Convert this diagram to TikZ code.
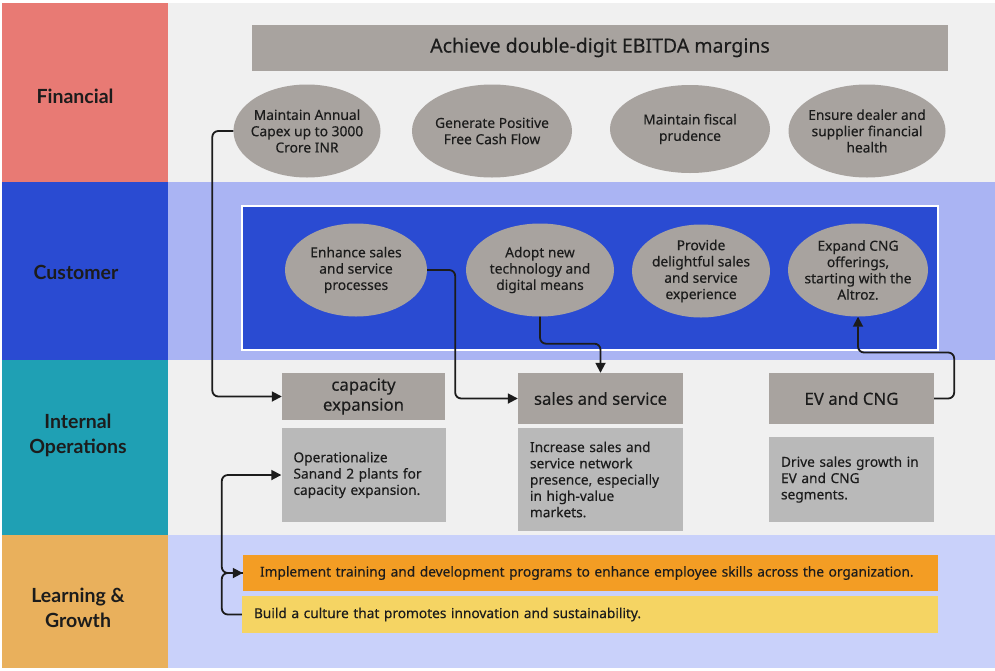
\documentclass[tikz,border=0pt]{standalone}
\usepackage{fontspec}
\setmainfont{Noto Sans}[FakeBold=0.25]
\newfontfamily\lanefont{Lato}
\usetikzlibrary{shapes.geometric,arrows.meta}
\definecolor{finred}{HTML}{E87A74}
\definecolor{custblue}{HTML}{2A4BD2}
\definecolor{opsteal}{HTML}{1FA0B4}
\definecolor{learnorange}{HTML}{E9B05C}
\definecolor{bandgray}{HTML}{F0F0F0}
\definecolor{bandblue}{HTML}{AAB4F3}
\definecolor{bandlilac}{HTML}{C9D1FA}
\definecolor{goalgray}{HTML}{A8A39F}
\definecolor{descgray}{HTML}{B9B9B9}
\definecolor{barorange}{HTML}{F39D24}
\definecolor{baryellow}{HTML}{F5D463}
\definecolor{inkdark}{HTML}{1C1C1C}
\tikzset{
  lanelabel/.style={font=\lanefont\bfseries\fontsize{19.5}{25}\selectfont, align=center, text=inkdark},
  goal/.style={ellipse, fill=goalgray, inner sep=-14pt, minimum height=93pt, align=center, text=inkdark, font=\fontsize{13.8}{16.3}\selectfont},
  header/.style={rectangle, fill=goalgray, inner sep=0pt, align=center, text=inkdark, font=\fontsize{16.8}{20}\selectfont},
  desc/.style={rectangle, fill=descgray, inner xsep=12pt, inner ysep=0pt, align=left, text=inkdark, font=\fontsize{13.7}{16.3}\selectfont},
  bar/.style={rectangle, inner ysep=0pt, align=left, text=inkdark, font=\fontsize{13.7}{16}\selectfont},
  link/.style={draw=inkdark, line width=1.8pt, rounded corners=6pt, -{Triangle[length=10pt,width=10pt]}}
}
\begin{document}
\begin{tikzpicture}[x=1pt,y=-1pt]
\useasboundingbox[fill=white] (0,0) rectangle (995,670);
% bands
\fill[bandgray] (168,3) rectangle (995,182);
\fill[bandblue] (168,182) rectangle (995,360);
\fill[bandgray] (168,360) rectangle (995,535);
\fill[bandlilac] (168,535) rectangle (995,668);
\fill[finred] (2,3) rectangle (168,182);
\fill[custblue] (2,182) rectangle (168,360);
\fill[opsteal] (2,360) rectangle (168,535);
\fill[learnorange] (2,535) rectangle (168,668);
\node[lanelabel] (fin) at (75,96) {Financial};
\node[lanelabel] (cust) at (76,272) {Customer};
\node[lanelabel] (ops) at (78,435) {Internal\\Operations};
\node[lanelabel] (learn) at (78,608) {Learning \&\\Growth};
% financial
\node[rectangle, fill=goalgray, minimum width=696pt, minimum height=46pt, text=inkdark, font=\fontsize{19.5}{22}\selectfont] (ebitda) at (600,47.5) {Achieve double-digit EBITDA margins};
\node[goal, minimum width=147pt] (capex) at (307,131) {Maintain Annual\\Capex up to 3000\\Crore INR};
\node[goal, minimum width=160pt] (cash) at (492,131) {Generate Positive\\Free Cash Flow};
\node[goal, minimum width=160pt, minimum height=88pt] (fiscal) at (690,129) {Maintain fiscal\\prudence};
\node[goal, minimum width=157pt] (dealer) at (867,131) {Ensure dealer and\\supplier financial\\health};
% customer
\draw[white, line width=1.2pt, fill=custblue] (242,206) rectangle (938,350);
\node[goal, minimum width=142pt] (enhance) at (356,270) {Enhance sales\\and service\\processes};
\node[goal, minimum width=148pt] (adopt) at (540,270) {Adopt new\\technology and\\digital means};
\node[goal, minimum width=138pt] (provide) at (701,271) {Provide\\delightful sales\\and service\\experience};
\node[goal, minimum width=140pt] (expand) at (858,270) {Expand CNG\\offerings,\\starting with the\\Altroz.};
% internal operations
\node[header, minimum width=163pt, minimum height=47pt] (capacity) at (363.5,396.5) {capacity\\expansion};
\node[header, minimum width=165pt, minimum height=51pt] (sales) at (600.5,398.5) {sales and service};
\node[header, minimum width=165pt, minimum height=51pt] (ev) at (851.5,398.5) {EV and CNG};
\node[desc, text width=140pt, minimum height=94pt] (operate) at (363.5,475) {Operationalize\\Sanand 2 plants for\\capacity expansion.};
\node[desc, text width=141pt, minimum height=103pt] (network) at (600.5,479.5) {Increase sales and\\service network\\presence, especially\\in high-value\\markets.};
\node[desc, text width=141pt, minimum height=85pt] (drive) at (851.5,479.5) {Drive sales growth in\\EV and CNG\\segments.};
% learning and growth
\node[bar, fill=barorange, inner xsep=17pt, text width=661pt, minimum height=36pt] (training) at (590.5,573) {Implement training and development programs to enhance employee skills across the organization.};
\node[bar, fill=baryellow, inner xsep=12pt, text width=672pt, minimum height=37pt] (culture) at (590,614.5) {Build a culture that promotes innovation and sustainability.};
% links
\draw[link] (capex.west) -- ++(-21,0) |- (capacity.west);
\draw[link] (enhance.east) -- ++(28,0) |- (sales.west);
\draw[link] (adopt.south) -- ++(0,27) -| (sales.north);
\draw[link] (ev.east) -- ++(20,0) -- ++(0,-46) -| (expand.south);
\draw[link] (culture.west) -- ++(-20,0) |- (training.west);
\draw[link] (training.west) -- ++(-21,0) |- (operate.west);
\end{tikzpicture}
\end{document}
